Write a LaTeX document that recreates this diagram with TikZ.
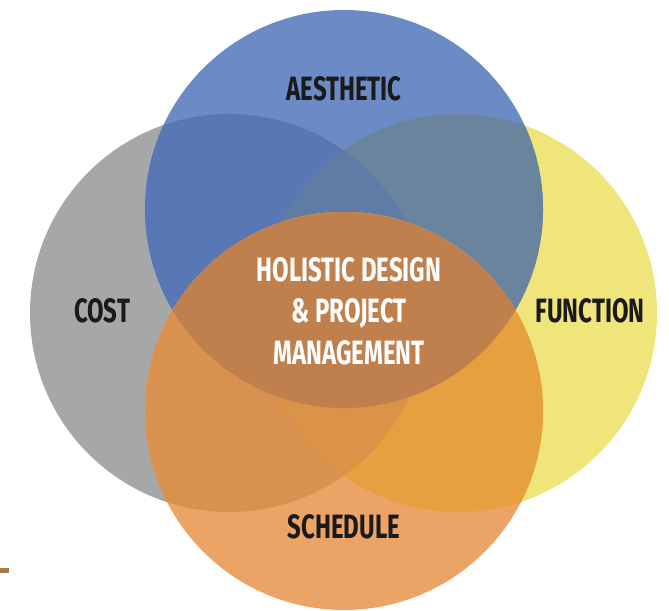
\documentclass[tikz,border=0pt]{standalone}
\usepackage{fontspec}
\usepackage{tikz}
\newfontfamily\labelfont[FakeStretch=0.71]{Fira Sans Bold}
\definecolor{costgray}{HTML}{A6A7A9}
\definecolor{funcyellow}{HTML}{F0E57B}
\definecolor{aesblue}{HTML}{6B8AC6}
\definecolor{aesgray}{HTML}{5877B4}
\definecolor{aesyellow}{HTML}{6A849E}
\definecolor{aesboth}{HTML}{5E7CA6}
\definecolor{schorange}{HTML}{EBA466}
\definecolor{schgray}{HTML}{D8914F}
\definecolor{schyellow}{HTML}{E7A040}
\definecolor{schboth}{HTML}{DB9447}
\definecolor{core}{HTML}{C0804E}
\definecolor{labelblack}{HTML}{1A1A1A}
\definecolor{rulebrown}{HTML}{A87A50}

\begin{document}
\begin{tikzpicture}[x=0.025cm, y=-0.025cm,
	lbl/.style={font=\labelfont\fontsize{24}{29.5}\selectfont, text=labelblack, inner sep=0pt},
	ctr/.style={lbl, text=white, align=center}]
	\useasboundingbox (0,0) rectangle (669,610);
	% Circles and overlaps:
	\fill[costgray] (229,313) circle[radius=199];
	\fill[funcyellow] (458,313) circle[radius=199];
	\fill[aesblue] (344,209) circle[radius=199];
	\begin{scope}
		\clip (344,209) circle[radius=199];
		\fill[aesgray] (229,313) circle[radius=199];
		\fill[aesyellow] (458,313) circle[radius=199];
		\clip (229,313) circle[radius=199];
		\fill[aesboth] (458,313) circle[radius=199];
	\end{scope}
	\fill[schorange] (344,411) circle[radius=199];
	\begin{scope}
		\clip (344,411) circle[radius=199];
		\fill[schgray] (229,313) circle[radius=199];
		\fill[schyellow] (458,313) circle[radius=199];
		\begin{scope}
			\clip (229,313) circle[radius=199];
			\fill[schboth] (458,313) circle[radius=199];
		\end{scope}
		\fill[core] (344,209) circle[radius=199];
	\end{scope}
	\fill[rulebrown] (0,568) rectangle (9,573);
	% Labels:
	\node[lbl] (aesthetic) at (344,89){AESTHETIC};
	\node[lbl] (cost) at (102,311){COST};
	\node[lbl] (function) at (590,311){FUNCTION};
	\node[lbl] (schedule) at (344,527){SCHEDULE};
	\node[ctr] (holistic) at (349,311){HOLISTIC DESIGN\\\& PROJECT\\MANAGEMENT};
\end{tikzpicture}
\end{document}
